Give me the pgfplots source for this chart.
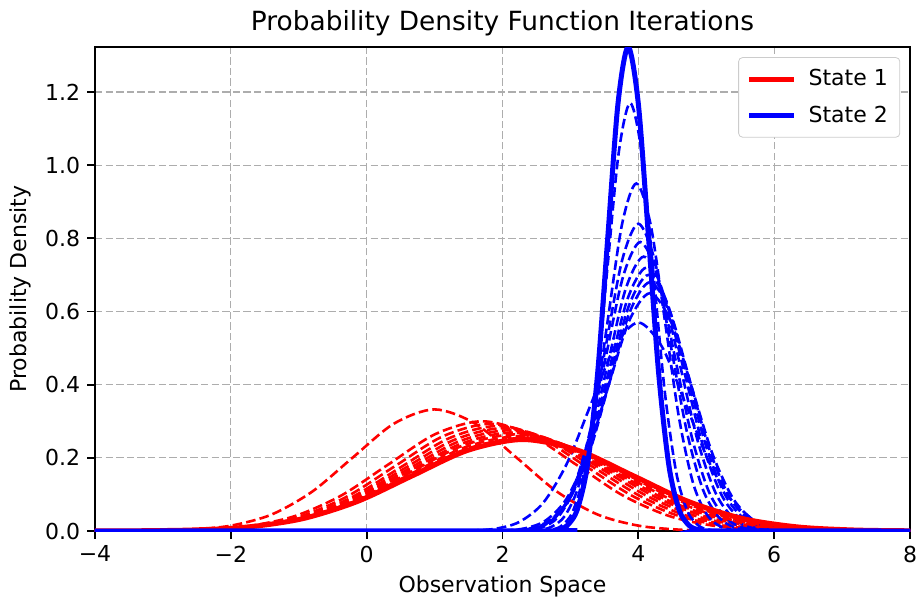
\documentclass[border=0pt]{standalone}
\usepackage{fontspec}
\setmainfont{DejaVu Sans}
\usepackage{pgfplots}
\pgfplotsset{compat=1.18}
\pgfplotsset{
  rd/.style={color=red, line width=1.3pt, dash pattern=on 4.8pt off 2.1pt, smooth, forget plot, mark=none},
  bd/.style={color=blue, line width=1.3pt, dash pattern=on 4.8pt off 2.1pt, smooth, forget plot, mark=none},
  rs/.style={color=red, line width=2.5pt, smooth, forget plot, mark=none},
  bs/.style={color=blue, line width=2.5pt, smooth, forget plot, mark=none},
}
\begin{document}
\begin{tikzpicture}
\begin{axis}[
  width=407.5pt, height=242pt, scale only axis,
  xmin=-4, xmax=8, ymin=0, ymax=1.323,
  xtick={-4,-2,0,2,4,6,8}, xticklabels={−4,−2,0,2,4,6,8},
  ytick={0,0.2,0.4,0.6,0.8,1.0,1.2}, yticklabels={0.0,0.2,0.4,0.6,0.8,1.0,1.2},
  tick label style={font=\fontsize{11}{13}\selectfont},
  label style={font=\fontsize{11}{13}\selectfont},
  title style={font=\fontsize{13.2}{16}\selectfont, yshift=-4pt},
  title={Probability Density Function Iterations},
  xlabel={Observation Space}, ylabel={Probability Density},
  grid=major, grid style={dash pattern=on 3.7pt off 1.6pt, color=black!32, line width=0.6pt},
  axis line style={line width=0.9pt},
  tick align=outside, tick pos=left, major tick length=3.85pt,
  tick style={line width=0.9pt, black},
  legend image code/.code={\draw[#1] (0pt,0pt) -- (22.5pt,0pt);},
  legend style={at={(0.988,0.979)}, anchor=north east, draw=black!20, rounded corners=2pt, fill=white, font=\fontsize{11}{13}\selectfont, row sep=4.5pt, inner xsep=4pt, inner ysep=4pt,
    /tikz/every odd column/.append style={column sep=4pt}},
  legend cell align=left,
]
% iteration 0
\addplot[rd] coordinates {(-4,0) (-3.8,0.0001) (-3.2,0.0007) (-2.6,0.0037) (-2.0,0.0146) (-1.4,0.0450) (-0.8,0.1079) (-0.2,0.2016) (0.4,0.2933) (1.0,0.3324) (1.6,0.2933) (2.2,0.2016) (2.8,0.1079) (3.4,0.0450) (4.0,0.0146) (4.6,0.0037) (5.2,0.0007) (5.8,0.0001) (8,0)};
\addplot[bd] coordinates {(-4,0) (1.20,0.0002) (1.55,0.0013) (1.90,0.0063) (2.25,0.0250) (2.60,0.0771) (2.95,0.1851) (3.30,0.3457) (3.65,0.5030) (4.00,0.5700) (4.35,0.5030) (4.70,0.3457) (5.05,0.1851) (5.40,0.0771) (5.75,0.0250) (6.10,0.0063) (6.45,0.0013) (6.80,0.0002) (8,0)};
% iteration 1
\addplot[rd] coordinates {(-4,0) (-3.82,0.0001) (-3.13,0.0007) (-2.44,0.0033) (-1.75,0.0132) (-1.06,0.0406) (-0.37,0.0974) (0.32,0.1820) (1.01,0.2648) (1.70,0.3000) (2.39,0.2648) (3.08,0.1820) (3.77,0.0974) (4.46,0.0406) (5.15,0.0132) (5.84,0.0033) (6.53,0.0007) (7.22,0.0001) (8,0)};
\addplot[bd] coordinates {(-4,0) (1.714,0.0002) (2.021,0.0014) (2.328,0.0072) (2.635,0.0285) (2.942,0.0879) (3.249,0.2111) (3.556,0.3942) (3.863,0.5736) (4.170,0.6500) (4.477,0.5736) (4.784,0.3942) (5.091,0.2111) (5.398,0.0879) (5.705,0.0285) (6.012,0.0072) (6.319,0.0014) (6.626,0.0002) (8,0)};
% iteration 2
\addplot[rd] coordinates {(-4,0) (-3.78,0.0001) (-3.08,0.0006) (-2.38,0.0033) (-1.68,0.0129) (-0.98,0.0396) (-0.28,0.0951) (0.42,0.1777) (1.12,0.2586) (1.82,0.2930) (2.52,0.2586) (3.22,0.1777) (3.92,0.0951) (4.62,0.0396) (5.32,0.0129) (6.02,0.0033) (6.72,0.0006) (7.42,0.0001) (8,0)};
\addplot[bd] coordinates {(-4,0) (1.822,0.0002) (2.116,0.0015) (2.409,0.0075) (2.703,0.0299) (2.996,0.0920) (3.290,0.2208) (3.583,0.4124) (3.877,0.6001) (4.170,0.6800) (4.464,0.6001) (4.757,0.4124) (5.051,0.2208) (5.344,0.0920) (5.638,0.0299) (5.931,0.0075) (6.225,0.0015) (6.518,0.0002) (8,0)};
% iteration 3
\addplot[rd] coordinates {(-4,0) (-3.76,0.0001) (-3.05,0.0006) (-2.34,0.0032) (-1.63,0.0126) (-0.92,0.0388) (-0.21,0.0932) (0.50,0.1741) (1.21,0.2533) (1.92,0.2870) (2.63,0.2533) (3.34,0.1741) (4.05,0.0932) (4.76,0.0388) (5.47,0.0126) (6.18,0.0032) (6.89,0.0006) (7.60,0.0001) (8,0)};
\addplot[bd] coordinates {(-4,0) (1.870,0.0002) (2.155,0.0015) (2.440,0.0078) (2.725,0.0307) (3.010,0.0947) (3.295,0.2273) (3.580,0.4246) (3.865,0.6178) (4.150,0.7000) (4.435,0.6178) (4.720,0.4246) (5.005,0.2273) (5.290,0.0947) (5.575,0.0307) (5.860,0.0078) (6.145,0.0015) (6.430,0.0002) (8,0)};
% iteration 4
\addplot[rd] coordinates {(-4,0) (-3.80,0.0001) (-3.075,0.0006) (-2.35,0.0031) (-1.625,0.0123) (-0.90,0.0380) (-0.175,0.0912) (0.55,0.1704) (1.275,0.2480) (2.00,0.2810) (2.725,0.2480) (3.45,0.1704) (4.175,0.0912) (4.90,0.0380) (5.625,0.0123) (6.35,0.0031) (7.075,0.0006) (7.80,0.0001) (8,0)};
\addplot[bd] coordinates {(-4,0) (1.904,0.0002) (2.181,0.0016) (2.458,0.0080) (2.735,0.0316) (3.012,0.0974) (3.289,0.2338) (3.566,0.4367) (3.843,0.6354) (4.120,0.7200) (4.397,0.6354) (4.674,0.4367) (4.951,0.2338) (5.228,0.0974) (5.505,0.0316) (5.782,0.0080) (6.059,0.0016) (6.336,0.0002) (8,0)};
% iteration 5
\addplot[rd] coordinates {(-4,0) (-3.85,0.0001) (-3.11,0.0006) (-2.37,0.0031) (-1.63,0.0121) (-0.89,0.0372) (-0.15,0.0893) (0.59,0.1668) (1.33,0.2427) (2.07,0.2750) (2.81,0.2427) (3.55,0.1668) (4.29,0.0893) (5.03,0.0372) (5.77,0.0121) (6.51,0.0031) (7.25,0.0006) (8.2,0)};
\addplot[bd] coordinates {(-4,0) (1.952,0.0002) (2.218,0.0017) (2.484,0.0083) (2.750,0.0329) (3.016,0.1015) (3.282,0.2435) (3.548,0.4549) (3.814,0.6619) (4.080,0.7500) (4.346,0.6619) (4.612,0.4549) (4.878,0.2435) (5.144,0.1015) (5.410,0.0329) (5.676,0.0083) (5.942,0.0017) (6.208,0.0002) (8,0)};
% iteration 6
\addplot[rd] coordinates {(-4,0) (-3.91,0.0001) (-3.155,0.0006) (-2.40,0.0030) (-1.645,0.0118) (-0.89,0.0364) (-0.135,0.0873) (0.62,0.1631) (1.375,0.2374) (2.13,0.2690) (2.885,0.2374) (3.64,0.1631) (4.395,0.0873) (5.15,0.0364) (5.905,0.0118) (6.66,0.0030) (7.415,0.0006) (8.17,0.0001)};
\addplot[bd] coordinates {(-4,0) (2.010,0.0002) (2.263,0.0017) (2.515,0.0088) (2.768,0.0347) (3.020,0.1069) (3.273,0.2565) (3.525,0.4791) (3.778,0.6972) (4.030,0.7900) (4.283,0.6972) (4.535,0.4791) (4.788,0.2565) (5.040,0.1069) (5.293,0.0347) (5.545,0.0088) (5.798,0.0017) (6.050,0.0002) (8,0)};
% iteration 7
\addplot[rd] coordinates {(-3.98,0.0001) (-3.21,0.0006) (-2.44,0.0029) (-1.67,0.0116) (-0.90,0.0357) (-0.13,0.0857) (0.64,0.1601) (1.41,0.2330) (2.18,0.2640) (2.95,0.2330) (3.72,0.1601) (4.49,0.0857) (5.26,0.0357) (6.03,0.0116) (6.80,0.0029) (7.57,0.0006) (8.34,0.0001)};
\addplot[bd] coordinates {(-4,0) (2.100,0.0003) (2.338,0.0018) (2.575,0.0093) (2.813,0.0369) (3.050,0.1137) (3.288,0.2727) (3.525,0.5095) (3.763,0.7413) (4.000,0.8400) (4.238,0.7413) (4.475,0.5095) (4.713,0.2727) (4.950,0.1137) (5.188,0.0369) (5.425,0.0093) (5.663,0.0018) (5.900,0.0003) (8,0)};
% iteration 8
\addplot[rd] coordinates {(-4.05,0.0001) (-3.265,0.0006) (-2.48,0.0029) (-1.695,0.0114) (-0.91,0.0350) (-0.125,0.0841) (0.66,0.1571) (1.445,0.2286) (2.23,0.2590) (3.015,0.2286) (3.80,0.1571) (4.585,0.0841) (5.37,0.0350) (6.155,0.0114) (6.94,0.0029) (7.725,0.0006) (8.51,0.0001)};
\addplot[bd] coordinates {(-4,0) (2.29,0.0003) (2.50,0.0021) (2.71,0.0105) (2.92,0.0417) (3.13,0.1285) (3.34,0.3085) (3.55,0.5762) (3.76,0.8384) (3.97,0.9500) (4.18,0.8384) (4.39,0.5762) (4.60,0.3085) (4.81,0.1285) (5.02,0.0417) (5.23,0.0105) (5.44,0.0021) (5.65,0.0003) (8,0)};
% iteration 9
\addplot[rd] coordinates {(-4.13,0.0001) (-3.33,0.0006) (-2.53,0.0028) (-1.73,0.0112) (-0.93,0.0344) (-0.13,0.0825) (0.67,0.1541) (1.47,0.2242) (2.27,0.2540) (3.07,0.2242) (3.87,0.1541) (4.67,0.0825) (5.47,0.0344) (6.27,0.0112) (7.07,0.0028) (7.87,0.0006) (8.67,0.0001)};
\addplot[bd] coordinates {(-4,0) (2.52,0.0004) (2.69,0.0026) (2.86,0.0130) (3.03,0.0514) (3.20,0.1583) (3.37,0.3799) (3.54,0.7096) (3.71,1.0325) (3.88,1.1700) (4.05,1.0325) (4.22,0.7096) (4.39,0.3799) (4.56,0.1583) (4.73,0.0514) (4.90,0.0130) (5.07,0.0026) (5.24,0.0004) (8,0)};
% final
\addplot[rs] coordinates {(-4.18,0.0001) (-3.37,0.0006) (-2.56,0.0028) (-1.75,0.0110) (-0.94,0.0338) (-0.13,0.0812) (0.68,0.1516) (1.49,0.2206) (2.30,0.2500) (3.11,0.2206) (3.92,0.1516) (4.73,0.0812) (5.54,0.0338) (6.35,0.0110) (7.16,0.0028) (7.97,0.0006) (8.78,0.0001)};
\addplot[bs] coordinates {(-4,0) (2.65,0.0004) (2.80,0.0029) (2.95,0.0147) (3.10,0.0581) (3.25,0.1790) (3.40,0.4296) (3.55,0.8024) (3.70,1.1675) (3.85,1.3230) (4.00,1.1675) (4.15,0.8024) (4.30,0.4296) (4.45,0.1790) (4.60,0.0581) (4.75,0.0147) (4.90,0.0029) (5.05,0.0004) (8,0)};
\addlegendimage{red, line width=2.5pt}
\addlegendentry{State 1}
\addlegendimage{blue, line width=2.5pt}
\addlegendentry{State 2}
\end{axis}
\pgfresetboundingbox
\path ([xshift=-47.5pt, yshift=-35pt]current axis.south west) rectangle ([xshift=3.5pt, yshift=23.5pt]current axis.north east);
\end{tikzpicture}
\end{document}
